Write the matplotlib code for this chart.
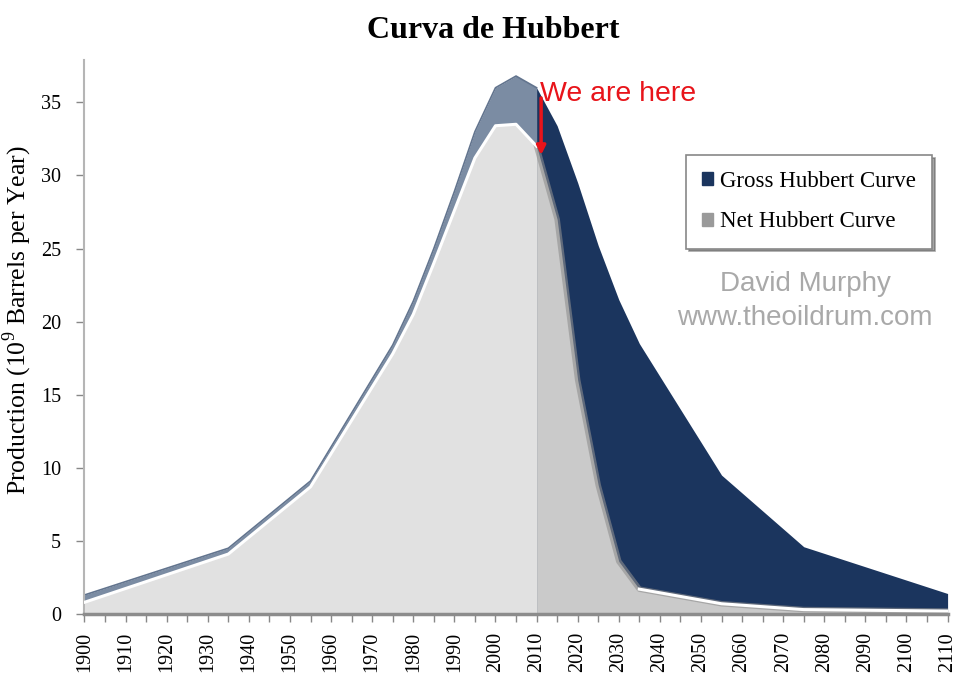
import numpy as np
import matplotlib.pyplot as plt
from matplotlib.patches import Patch

plt.rcParams['mathtext.fontset'] = 'custom'
plt.rcParams['mathtext.rm'] = 'Liberation Serif'

# Datos (años y producción en 10^9 barriles/año)
years = [1900, 1935, 1955, 1975, 1980, 1985, 1990, 1995, 2000, 2005,
         2010, 2015, 2020, 2025, 2030, 2035, 2055, 2075, 2110]
gross = [1.3, 4.5, 9.1, 18.4, 21.4, 25.0, 28.9, 33.0, 36.0, 36.8,
         36.0, 33.4, 29.5, 25.2, 21.5, 18.5, 9.5, 4.6, 1.4]
net = [0.8, 4.1, 8.7, 17.8, 20.5, 24.0, 27.6, 31.2, 33.4, 33.5,
       32.0, 27.0, 16.0, 8.8, 3.6, 1.7, 0.7, 0.3, 0.2]

now_year = 2010
x_ticks = list(range(1900, 2111, 10))
y_ticks = [0, 5, 10, 15, 20, 25, 30, 35]

serif = ['Liberation Serif', 'DejaVu Serif']
sans = ['Liberation Sans', 'DejaVu Sans']

x = np.array(years)
g = np.array(gross)
n = np.array(net)
past = x <= now_year
future = x >= now_year

fig = plt.figure(figsize=(9.59, 6.73), dpi=100)
ax = fig.add_axes([0.0881, 0.0877, 0.9, 0.8232])

# curva bruta
ax.fill_between(x, 0, g, where=past, color='#7b8ca3', lw=0, zorder=1)
ax.fill_between(x, 0, g, where=future, color='#1b355e', lw=0, zorder=1)
ax.plot(x[past], g[past], color='#62748e', lw=1.2, zorder=2)

# curva neta
ax.fill_between(x, 0, n, where=past, color='#e1e1e1', lw=0, zorder=3)
ax.fill_between(x, 0, n, where=future, color='#cacaca', lw=0, zorder=3)
ax.plot(x[future], n[future], color='#8f8f8f', lw=4, alpha=0.6, zorder=4)
ax.plot(x[past], n[past], color='white', lw=2.2, zorder=5)
ax.plot(x[x >= 2035], n[x >= 2035], color='white', lw=2.2, zorder=5)

ax.set_xlim(1900, 2110)
ax.set_ylim(0, 37.9)
ax.set_xticks(x_ticks)
ax.set_xticks(range(1905, 2110, 10), minor=True)
ax.set_xticklabels([str(t) for t in x_ticks], rotation=90, family=serif, fontsize=14.5)
ax.set_yticks(y_ticks)
ax.set_yticklabels([str(t) for t in y_ticks], family=serif, fontsize=14.5)
ax.tick_params(axis='both', which='both', color='#888888', length=6, width=1)
ax.tick_params(axis='x', which='both', pad=7)
ax.tick_params(axis='y', pad=11)

for s in ['top', 'right']:
    ax.spines[s].set_visible(False)
ax.spines['left'].set_color('#b5b5b5')
ax.spines['left'].set_linewidth(1.5)
ax.spines['bottom'].set_color('#8c8c8c')
ax.spines['bottom'].set_linewidth(2.5)
ax.spines['bottom'].set_zorder(6)

ax.set_ylabel('Production (10$^{9}$ Barrels per Year)', family=serif, fontsize=18.5)
ax.yaxis.set_label_coords(-0.059, 0.53)
fig.suptitle('Curva de Hubbert', family=serif, fontsize=23, fontweight='bold',
             x=0.514, y=0.976)

# anotación
ax.text(2010.8, 35.55, 'We are here', color='#e8141a', family=sans, fontsize=20.5,
        ha='left', va='center', zorder=8)
ax.annotate('', xy=(2011.1, 31.4), xytext=(2011.1, 35.3),
            arrowprops=dict(arrowstyle='-|>', color='#e8141a', lw=2.5,
                            mutation_scale=13, shrinkA=0, shrinkB=0), zorder=8)

handles = [Patch(facecolor='#1b355e', edgecolor='#1b355e', label='Gross Hubbert Curve'),
           Patch(facecolor='#9a9a9a', edgecolor='#9a9a9a', label='Net Hubbert Curve')]
leg = ax.legend(handles=handles, loc='upper right', bbox_to_anchor=(0.982, 0.8285),
                borderaxespad=0, prop={'family': serif, 'size': 16.5},
                handlelength=0.5, handleheight=0.5, handletextpad=0.3,
                labelspacing=0.85, borderpad=0.7, fancybox=False, shadow=True,
                framealpha=1, edgecolor='#888888')
leg.get_frame().set_linewidth(1.2)

ax.text(0.835, 0.596, 'David Murphy', transform=ax.transAxes, ha='center',
        va='center', color='#a9a9a9', family=sans, fontsize=20)
ax.text(0.835, 0.535, 'www.theoildrum.com', transform=ax.transAxes, ha='center',
        va='center', color='#a9a9a9', family=sans, fontsize=20)

fig.savefig('out.png', dpi=100)
